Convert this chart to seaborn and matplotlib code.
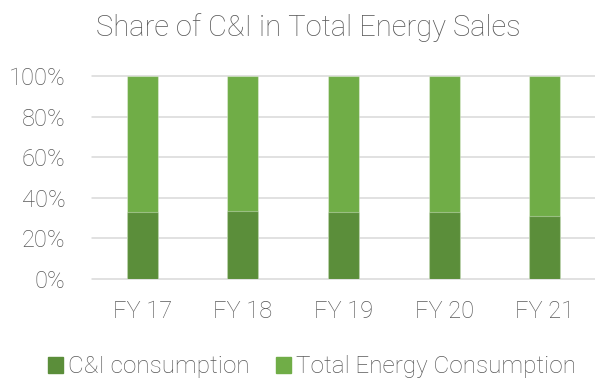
import matplotlib
matplotlib.use("Agg")
import matplotlib.pyplot as plt
import seaborn as sns
import pandas as pd
from matplotlib.patches import Patch
from matplotlib.ticker import PercentFormatter

years = ["FY 17", "FY 18", "FY 19", "FY 20", "FY 21"]
ci_share = [0.328, 0.333, 0.328, 0.328, 0.308]
total_share = [1.0, 1.0, 1.0, 1.0, 1.0]
y_ticks = [0.0, 0.2, 0.4, 0.6, 0.8, 1.0]

dark_green = "#5B8E3A"
light_green = "#70AD47"
grey_text = "#595959"

sns.set_theme(style="white")
plt.rcParams["font.family"] = ["Roboto", "DejaVu Sans"]

df = pd.DataFrame({"year": years, "ci": ci_share, "total": total_share})

fig = plt.figure(figsize=(5.95, 3.8), dpi=100)
ax = fig.add_axes([92 / 595, (380 - 278.7) / 380, (595 - 92) / 595, (278.7 - 76) / 380])

edge = (1, 1, 1, 0.35)
sns.barplot(data=df, x="year", y="total", color=light_green, width=0.31,
            saturation=1, edgecolor=edge, linewidth=0.8, ax=ax, zorder=3)
sns.barplot(data=df, x="year", y="ci", color=dark_green, width=0.31,
            saturation=1, edgecolor=edge, linewidth=0.8, ax=ax, zorder=4)

ax.set_xlim(-0.5, 4.5)
ax.set_ylim(0, 1.0)
ax.set_yticks(y_ticks)
ax.yaxis.set_major_formatter(PercentFormatter(1.0, decimals=0))
ax.grid(axis="y", color="#D9D9D9", linewidth=1.1, zorder=0)
for g in ax.get_ygridlines():
    g.set_clip_on(False)
ax.set_axisbelow(True)
for s in ax.spines.values():
    s.set_visible(False)
ax.set_xlabel("")
ax.set_ylabel("")
ax.tick_params(axis="both", length=0, colors=grey_text)
ax.tick_params(axis="y", pad=19)
ax.tick_params(axis="x", pad=15)
for lab in ax.get_xticklabels() + ax.get_yticklabels():
    lab.set_fontsize(17)
    lab.set_fontweight("light")
    lab.set_color(grey_text)

fig.text(308 / 595, 1 - 28 / 380, "Share of C&I in Total Energy Sales",
         ha="center", va="center", fontsize=21, fontweight="light", color=grey_text)

handles = [Patch(color=dark_green, label="C&I consumption"),
           Patch(color=light_green, label="Total Energy Consumption")]
leg = fig.legend(handles=handles, loc="center", bbox_to_anchor=(312 / 595, 1 - 367 / 380),
                 ncol=2, frameon=False, handlelength=0.62, handleheight=0.62,
                 handletextpad=0.22, columnspacing=1.05,
                 prop={"size": 17.5, "weight": "light"})
for t in leg.get_texts():
    t.set_color(grey_text)

fig.savefig("out.png", dpi=100)
